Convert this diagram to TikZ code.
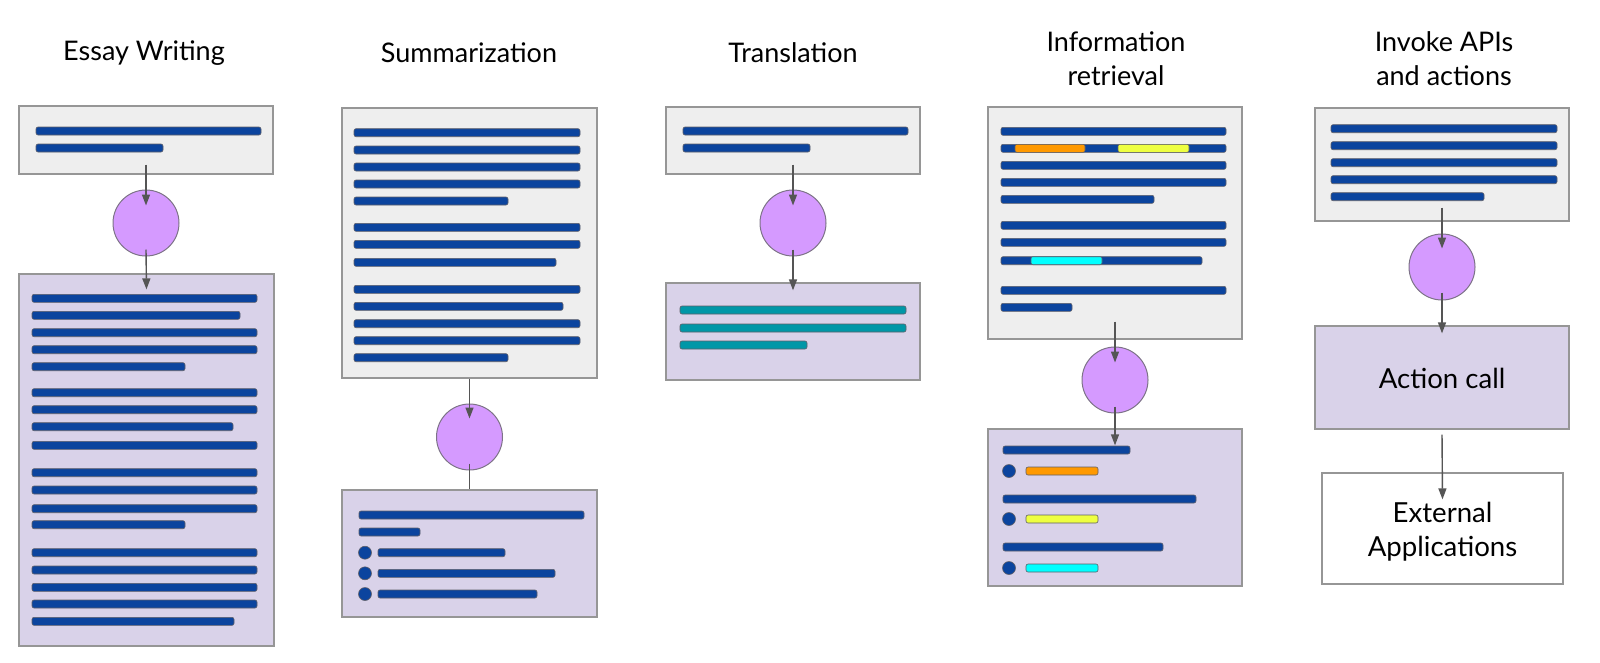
\documentclass[tikz,border=0pt]{standalone}
\usepackage{fontspec}
\setmainfont{Lato}
\usetikzlibrary{arrows.meta}
\definecolor{blu}{RGB}{11,68,158}
\definecolor{barborder}{RGB}{95,95,105}
\definecolor{boxgray}{RGB}{238,238,238}
\definecolor{boxline}{RGB}{150,150,150}
\definecolor{lav}{RGB}{217,210,233}
\definecolor{circfill}{RGB}{213,154,255}
\definecolor{circline}{RGB}{125,115,135}
\definecolor{arr}{RGB}{85,85,85}
\definecolor{org}{RGB}{255,153,0}
\definecolor{yel}{RGB}{238,255,65}
\definecolor{cyn}{RGB}{0,255,255}
\definecolor{tealbar}{RGB}{0,151,167}
\newcommand{\mybar}[4][blu]{\draw[barst,fill=#1] (#2,#4-4) rectangle (#3,#4+4);}
\newcommand{\mydot}[2]{\draw[barst,fill=blu] (#1,#2) circle (6.5pt);}
\begin{document}
\begin{tikzpicture}[x=1pt,y=-1pt,
  barst/.style={draw=barborder,line width=0.6pt,rounded corners=2pt},
  gbox/.style={draw=boxline,fill=boxgray,line width=1.3pt,inner sep=0pt},
  lbox/.style={draw=boxline,fill=lav,line width=1.3pt,inner sep=0pt},
  wbox/.style={draw=boxline,fill=white,line width=1.3pt,inner sep=0pt},
  proc/.style={circle,draw=circline,fill=circfill,line width=1pt,minimum size=66pt,inner sep=0pt},
  conn/.style={draw=arr,line width=1.4pt},
  arrw/.style={conn,-{Triangle[length=11pt,width=8pt]}},
  title/.style={font=\fontsize{27}{34}\selectfont,align=center,text=black},
  lbl/.style={font=\fontsize{27.6}{34}\selectfont,align=center,text=black,inner sep=0pt}
]
\useasboundingbox (0,0) rectangle (1600,662);

% titles
\node[title] (t1) at (144,53) {Essay Writing};
\node[title] (t2) at (469,53) {Summarization};
\node[title] (t3) at (793,53) {Translation};
\node[title] (t4) at (1116,59) {Information\\retrieval};
\node[title] (t5) at (1444,59) {Invoke APIs\\and actions};

% ---------- column 1 : essay ----------
\node[gbox,minimum width=254pt,minimum height=68pt] (e1) at (146,140) {};
\node[proc] (ec) at (146,223) {};
\node[lbox,minimum width=255pt,minimum height=372pt] (e2) at (146.5,460) {};
\mybar{36}{261}{131} \mybar{36}{163}{148}
\foreach \y/\xe in {298.3/257,315.3/240,332.7/257,349.7/257,366.7/185,
  392.7/257,409.7/257,426.7/233,445.3/257,
  472.7/257,490/257,508.7/257,524.7/185,
  552.7/257,570/257,587.3/257,604/257,621.3/234}{\mybar{32}{\xe}{\y}}
\draw[arrw] ([yshift=10pt]e1.south) -- ([yshift=-16pt]ec.north);
\draw[arrw] ([yshift=7pt]ec.south) -- ([yshift=-16pt]e2.north);

% ---------- column 2 : summarization ----------
\node[gbox,minimum width=255pt,minimum height=270pt] (s1) at (469.5,243) {};
\node[proc] (sc) at (469.5,437) {};
\node[lbox,minimum width=255pt,minimum height=127pt] (s2) at (469.5,553.5) {};
\foreach \y/\xe in {132.7/580,150/580,167/580,184/580,201/508,
  227.3/580,244.3/580,262.3/556,
  289.3/580,306.3/563,323.7/580,340.7/580,357.7/508}{\mybar{354}{\xe}{\y}}
\mybar{359}{584}{515} \mybar{359}{420}{532}
\mydot{365}{552.7} \mybar{378}{505}{552.7}
\mydot{365}{573.3} \mybar{378}{555}{573.3}
\mydot{365}{594} \mybar{378}{537}{594}
\draw[arrw] (s1.south) -- ([yshift=-15pt]sc.north);
\draw[conn] ([yshift=7pt]sc.south) -- (s2.north);

% ---------- column 3 : translation ----------
\node[gbox,minimum width=254pt,minimum height=67pt] (r1) at (793,140.5) {};
\node[proc] (rc) at (793,223) {};
\node[lbox,minimum width=254pt,minimum height=97pt] (r2) at (793,331.5) {};
\mybar{683}{908}{131} \mybar{683}{810}{148}
\mybar[tealbar]{680}{906}{310} \mybar[tealbar]{680}{906}{328} \mybar[tealbar]{680}{807}{345}
\draw[arrw] ([yshift=10pt]r1.south) -- ([yshift=-16pt]rc.north);
\draw[arrw] ([yshift=7pt]rc.south) -- ([yshift=-8pt]r2.north);

% ---------- column 4 : information retrieval ----------
\node[gbox,minimum width=254pt,minimum height=232pt] (i1) at (1115,223) {};
\node[proc] (ic) at (1115,380) {};
\node[lbox,minimum width=254pt,minimum height=157pt] (i2) at (1115,507.5) {};
\foreach \y/\xe in {131.3/1226,148.3/1226,165.3/1226,182.3/1226,199.3/1154,
  225.3/1226,242.3/1226,260.7/1202,290.3/1226,307.3/1072}{\mybar{1001}{\xe}{\y}}
\mybar[org]{1015}{1085}{148.3} \mybar[yel]{1118}{1189}{148.3}
\mybar[cyn]{1031}{1102}{260.7}
\mybar{1003}{1130}{450} \mydot{1009}{471} \mybar[org]{1026}{1098}{471}
\mybar{1003}{1196}{499} \mydot{1009}{519} \mybar[yel]{1026}{1098}{519}
\mybar{1003}{1163}{547} \mydot{1009}{568} \mybar[cyn]{1026}{1098}{568}
\draw[arrw] ([yshift=18pt]i1.south) -- ([yshift=-16pt]ic.north);
\draw[arrw] ([yshift=7pt]ic.south) -- ([yshift=-17pt]i2.north);

% ---------- column 5 : invoke APIs ----------
\node[gbox,minimum width=254pt,minimum height=113pt] (a1) at (1442,164.5) {};
\node[proc] (ac) at (1442,267) {};
\node[lbox,minimum width=254pt,minimum height=103pt] (a2) at (1442,377.5) {};
\node[lbl] (a2t) at ([yshift=-1pt]a2.center) {Action call};
\node[wbox,minimum width=241pt,minimum height=111pt] (a3) at (1442.5,528.5) {};
\node[lbl] (a3t) at ([yshift=-3pt]a3.center) {External\\Applications};
\foreach \y/\xe in {128.7/1557,145.7/1557,162.7/1557,179.7/1557,196.7/1484}{\mybar{1331}{\xe}{\y}}
\draw[arrw] ([yshift=14pt]a1.south) -- ([yshift=-15pt]ac.north);
\draw[arrw] ([yshift=8pt]ac.south) -- ([yshift=-8pt]a2.north);
\draw[arrw] ([yshift=-5pt]a2.south) -- ([yshift=-27pt]a3.north);
\end{tikzpicture}
\end{document}
